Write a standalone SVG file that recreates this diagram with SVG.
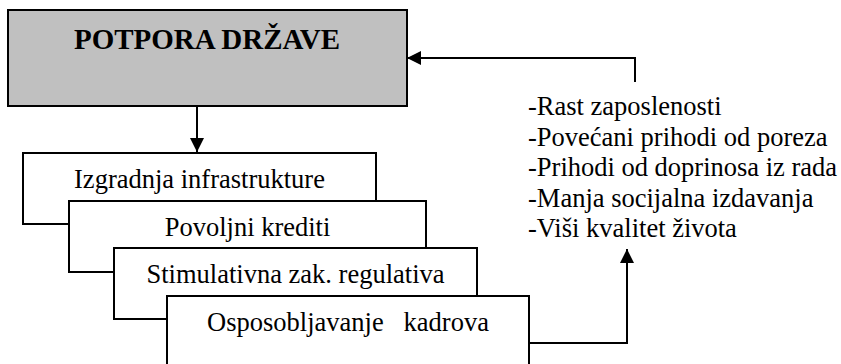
<svg xmlns="http://www.w3.org/2000/svg" width="841" height="364" viewBox="0 0 841 364">
  <style>
    .box { fill: #ffffff; stroke: #000000; stroke-width: 2; }
    .head { fill: #c0c0c0; stroke: #000000; stroke-width: 2; }
    .lbl { font-size: 26.5px; fill: #000000; }
    .title { font-size: 29px; font-weight: bold; fill: #000000; }
    .wire { fill: none; stroke: #000000; stroke-width: 2; }
  </style>
  <defs>
    <marker id="arrow" viewBox="0 0 14 14" refX="14" refY="7" markerWidth="14" markerHeight="14" markerUnits="userSpaceOnUse" orient="auto">
      <path d="M0,0 L14,7 L0,14 Z" fill="#000000"/>
    </marker>
  </defs>
  <rect width="841" height="364" fill="#ffffff"/>

  <g font-family="'Liberation Serif', Tinos, 'Times New Roman', 'DejaVu Serif', serif">
    <g id="potpora-drzave">
      <rect class="head" x="8" y="10" width="399" height="96"/>
      <text class="title" x="207" y="49" text-anchor="middle">POTPORA DRŽAVE</text>
    </g>

    <g id="infrastruktura">
      <rect class="box" x="23" y="153" width="353" height="71"/>
      <text class="lbl" x="199.5" y="188" text-anchor="middle">Izgradnja infrastrukture</text>
    </g>

    <g id="krediti">
      <rect class="box" x="69" y="201" width="357" height="71"/>
      <text class="lbl" x="247.5" y="236" text-anchor="middle">Povoljni krediti</text>
    </g>

    <g id="regulativa">
      <rect class="box" x="114" y="248" width="363" height="71"/>
      <text class="lbl" x="295.5" y="283" text-anchor="middle">Stimulativna zak. regulativa</text>
    </g>

    <g id="kadrovi">
      <rect class="box" x="167" y="296" width="362" height="80"/>
      <text class="lbl" x="348" y="331" text-anchor="middle" xml:space="preserve">Osposobljavanje   kadrova</text>
    </g>

    <g id="efekti">
      <text class="lbl" x="528" y="115">-Rast zaposlenosti</text>
      <text class="lbl" x="528" y="145.5">-Povećani prihodi od poreza</text>
      <text class="lbl" x="528" y="176">-Prihodi od doprinosa iz rada</text>
      <text class="lbl" x="528" y="206.5">-Manja socijalna izdavanja</text>
      <text class="lbl" x="528" y="237">-Viši kvalitet života</text>
    </g>
  </g>

  <g id="connectors">
    <path class="wire" d="M197,106 L197,152" marker-end="url(#arrow)"/>
    <path class="wire" d="M529,343 L627,343 L627,249" marker-end="url(#arrow)"/>
    <path class="wire" d="M635,82 L635,58 L407,58" marker-end="url(#arrow)"/>
  </g>
</svg>
